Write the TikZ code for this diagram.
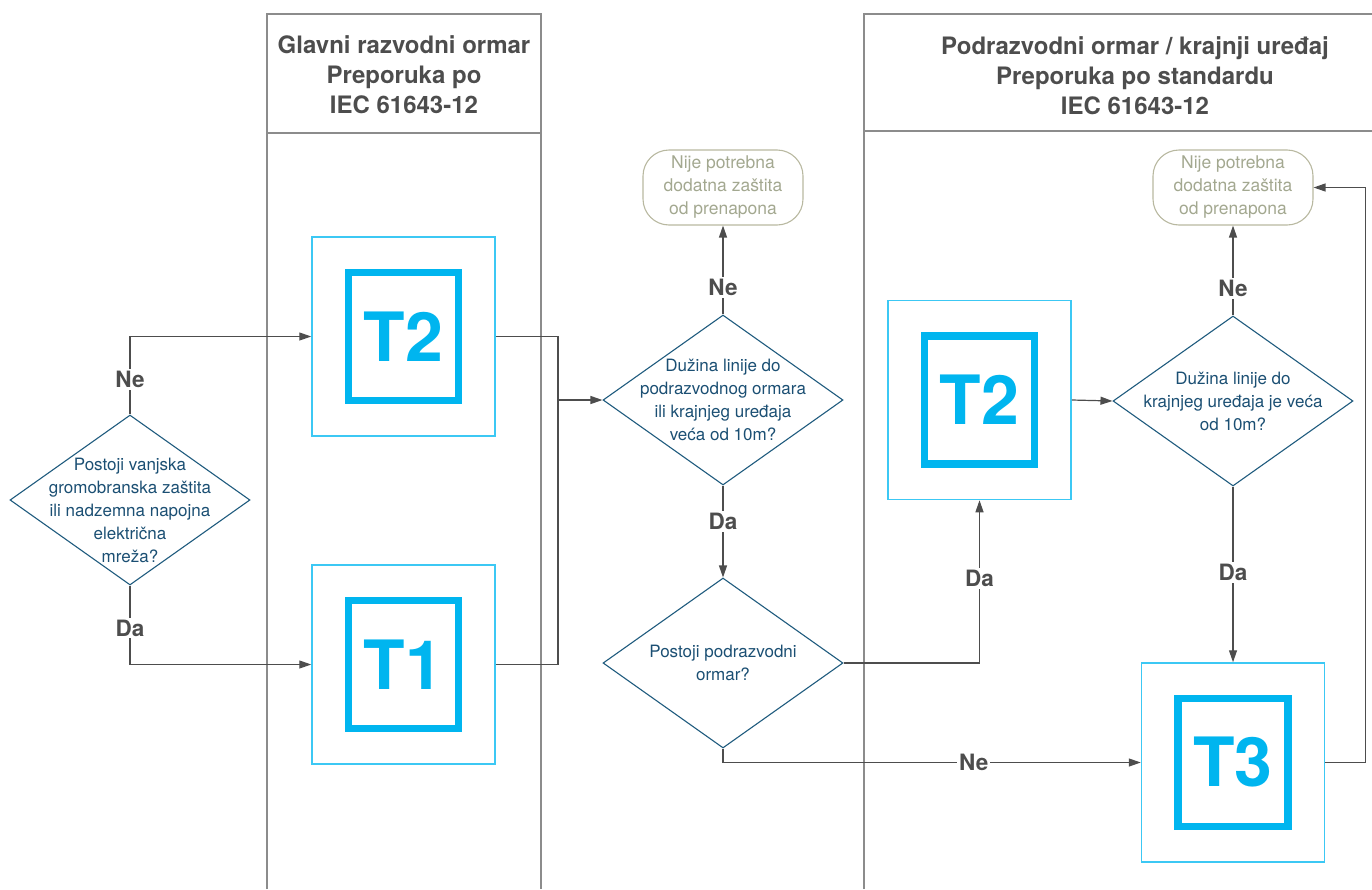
\documentclass[tikz,border=0pt]{standalone}
\usepackage{fontspec}
\setmainfont{TeX Gyre Heros}
\usetikzlibrary{shapes.geometric,arrows.meta}
\definecolor{flowgray}{HTML}{4D4D4D}
\definecolor{lanegray}{HTML}{8C8C8C}
\definecolor{qblue}{HTML}{1F5B7E}
\definecolor{qtext}{HTML}{1B4F73}
\definecolor{spdcyan}{HTML}{00B5EF}
\definecolor{spdlight}{HTML}{3CC8F4}
\definecolor{noboxline}{HTML}{B8B8A0}
\definecolor{noboxtext}{HTML}{A3A890}

\begin{document}
\begin{tikzpicture}[x=1pt,y=-1pt,
    lane/.style={draw=lanegray,line width=1.3pt},
    header/.style={align=center,text=flowgray,font=\fontsize{24}{30}\selectfont\bfseries},
    quest/.style={draw=qblue,line width=1.1pt,diamond,minimum width=240pt,minimum height=170pt,inner sep=0pt},
    qlabel/.style={align=center,text=qtext,font=\fontsize{17}{23}\selectfont},
    spdouter/.style={draw=spdlight,line width=1.5pt,minimum width=183pt,minimum height=199pt,inner sep=0pt},
    spdinner/.style={draw=spdcyan,line width=7.5pt,minimum width=110pt,minimum height=128pt,inner sep=0pt,text=spdcyan,font=\fontsize{68}{68}\selectfont\bfseries},
    nobox/.style={draw=noboxline,line width=1.1pt,rounded corners=26pt,minimum width=160pt,minimum height=75pt,inner sep=0pt,align=center,text=noboxtext,font=\fontsize{17.5}{23}\selectfont},
    flow/.style={draw=flowgray,line width=1.2pt},
    arr/.style={flow,-{Triangle[length=12pt,width=8pt]}},
    yesno/.style={fill=white,text=flowgray,inner sep=2pt,font=\fontsize{22.5}{22.5}\selectfont\bfseries}]
\useasboundingbox (0,0) rectangle (1372,889);

\draw[lane] (267,889) |- (541,14) -- (541,889);
\draw[lane] (267,133) -- (541,133);
\draw[lane] (864,889) |- (1372,14);
\draw[lane] (864,131) -- (1372,131);
\node[header] (hdrL) at (404,75) {Glavni razvodni ormar\\Preporuka po\\IEC 61643-12};
\node[header] (hdrR) at (1135,76) {Podrazvodni ormar / krajnji uređaj\\Preporuka po standardu\\IEC 61643-12};

\node[quest] (d1) at (130,500) {};
\node[qlabel] (d1txt) at ([yshift=-10pt]d1.center) {Postoji vanjska\\gromobranska zaštita\\ili nadzemna napojna\\električna\\mreža?};
\node[quest] (d2) at (723,400) {};
\node[qlabel] (d2txt) at (d2.center) {Dužina linije do\\podrazvodnog ormara\\ili krajnjeg uređaja\\veća od 10m?};
\node[quest] (d3) at (723,663) {};
\node[qlabel] (d3txt) at (d3.center) {Postoji podrazvodni\\ormar?};
\node[quest] (d4) at (1233,401) {};
\node[qlabel] (d4txt) at (d4.center) {Dužina linije do\\krajnjeg uređaja je veća\\od 10m?};

\node[spdouter] (t2a) at (403.5,336.5) {};
\node[spdinner] (t2aIn) at (t2a) {T2};
\node[spdouter] (t1) at (403.5,664.5) {};
\node[spdinner] (t1In) at (t1) {T1};
\node[spdouter] (t2b) at (979.5,400) {};
\node[spdinner] (t2bIn) at (t2b) {T2};
\node[spdouter] (t3) at (1233,762.5) {};
\node[spdinner] (t3In) at (t3) {T3};

\node[nobox] (nb1) at (723,187.5) {Nije potrebna\\dodatna zaštita\\od prenapona};
\node[nobox] (nb2) at (1233,187.5) {Nije potrebna\\dodatna zaštita\\od prenapona};

\coordinate (jn) at (558,400);
\draw[arr] (d1.north) |- node[yesno,pos=0.225] (ne1) {Ne} (t2a.west);
\draw[arr] (d1.south) |- node[yesno,pos=0.27] (da1) {Da} (t1.west);
\draw[flow] (t2a.east) -| (jn);
\draw[flow] (t1.east) -| (jn);
\draw[arr] (jn) -- (d2.west);
\draw[arr] (d2.north) -- node[yesno,pos=0.3] (ne2) {Ne} (nb1.south);
\draw[arr] (d2.south) -- node[yesno,pos=0.39] (da2) {Da} (d3.north);
\draw[arr] (d3.east) -| node[yesno,pos=0.76] (da3) {Da} (t2b.south);
\draw[arr] (d3.south) |- node[yesno,pos=0.8] (ne3) {Ne} (t3.west);
\draw[arr] (t2b.east) -- (d4.west);
\draw[arr] (d4.north) -- node[yesno,pos=0.3] (ne4) {Ne} (nb2.south);
\draw[arr] (d4.south) -- node[yesno,pos=0.49] (da4) {Da} (t3.north);
\draw[arr] (t3.east) -- ++(40,0) |- (nb2.east);
\end{tikzpicture}
\end{document}
